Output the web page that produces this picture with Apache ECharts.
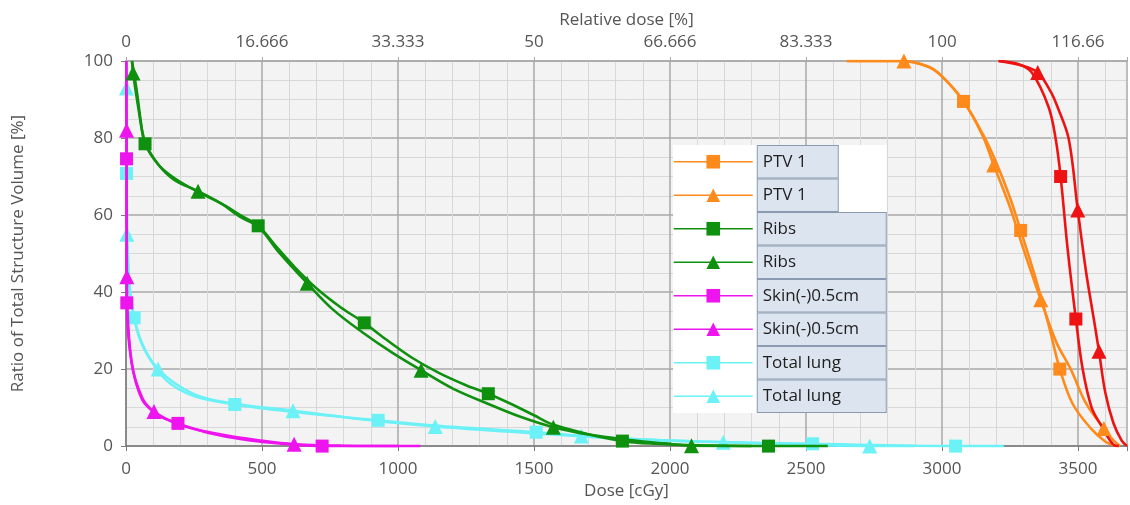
<!DOCTYPE html>
<html><head><meta charset="utf-8">
<script src="https://cdn.jsdelivr.net/npm/echarts@6/dist/echarts.min.js"></script>
<style>html,body{margin:0;padding:0;background:#fff}#c{width:1130px;height:505px}</style>
</head><body><div id="c"></div>
<script>
// ---- data ----
const doseMax = 3680;
const relDoseLabels = ['0','16.666','33.333','50','66.666','83.333','100','116.66'];
const volTicks = [0,20,40,60,80,100];

const ptvSq = [[2650,100],[2850,100],[2950,98.5],[3000,96],[3079,89.5],[3150,81],[3200,73.5],[3250,64.5],[3289,56],[3340,44.5],[3390,32],[3433,20],[3480,11],[3547,4.6],[3600,1.2],[3640,0]];
const ptvSqMarks = [4,8,11];
const ptvTri = [[2650,100],[2860,100],[2950,98.5],[3000,96],[3080,89.5],[3150,80.5],[3190,73],[3250,62],[3300,51],[3363,38],[3420,27],[3473,20],[3530,11],[3595,4.6],[3630,1.5],[3655,0]];
const ptvTriMarks = [1,6,9,13];

const ptvRedSq = [[3208,100],[3280,99.2],[3330,97],[3392,88],[3418,79.7],[3436,70],[3462,51],[3492,33],[3517,20],[3550,10],[3584,5.5],[3631,0.3],[3650,0]];
const ptvRedSqMarks = [5,7];
const ptvRedTri = [[3208,100],[3300,98.7],[3352,97],[3400,92],[3425,88],[3466,79.7],[3499,61.3],[3530,45],[3558,33],[3577,24.6],[3600,14],[3630,6],[3660,1.5],[3680,0]];
const ptvRedTriMarks = [2,6,9];

const ribsSq = [[22,100],[40,92],[55,84],[70,78.5],[120,73],[180,69.5],[265,66],[350,63],[420,60],[486,57.2],[550,52],[620,46.5],[700,41],[790,36],[876,32],[950,28],[1050,23],[1150,19],[1250,15.8],[1332,13.6],[1420,10.8],[1500,8],[1570,5.6],[1700,3.1],[1825,1.3],[1950,0.6],[2100,0.2],[2362,0],[2580,0]];
const ribsSqMarks = [3,9,14,19,24,27];
const ribsTri = [[22,100],[26,96.9],[45,88],[70,79],[120,73],[180,69],[265,66.2],[350,63],[420,59.5],[486,57],[560,50.5],[666,42.3],[760,35.5],[870,29.5],[980,24.2],[1085,19.7],[1200,15],[1330,11],[1450,7.6],[1571,4.9],[1700,3],[1850,1.6],[1980,0.7],[2079,0.1],[2300,0]];
const ribsTriMarks = [1,6,11,15,19,23];

const skinSq = [[1,100],[2,74.6],[3,37.2],[20,22],[60,12],[120,8],[191,5.9],[300,3.5],[450,1.5],[600,0.5],[721,0],[1082,0]];
const skinSqMarks = [1,2,6,10];
const skinTri = [[1,100],[2,82],[3,44],[20,22],[60,12.5],[103,9],[200,5.5],[350,3],[500,1.4],[618,0.5],[800,0.1],[1000,0]];
const skinTriMarks = [1,2,5,9];

const lungSq = [[1,100],[2,70.8],[10,45],[30,33.3],[70,25],[150,17],[250,13],[400,10.8],[600,9],[927,6.7],[1200,5],[1508,3.6],[1800,2],[2100,1.2],[2524,0.6],[3050,0],[3227,0]];
const lungSqMarks = [1,3,7,9,11,14,15];
const lungTri = [[1,100],[1.5,93],[3,55],[15,40],[50,28],[118,20],[250,13.5],[400,11],[614,9.2],[900,6.7],[1137,5.1],[1400,3.8],[1674,2.6],[1900,1.7],[2196,1],[2734,0],[2900,0]];
const lungTriMarks = [1,2,5,8,10,12,14,15];

// ---- build ----
function mk(name, color, sym, size, pts, marks, z){
  return {
    type:'line', name:name, smooth:0.35, symbol:sym, symbolSize:size, showSymbol:true,
    lineStyle:{color:color, width:2.6}, itemStyle:{color:color},
    z:z, animation:false, clip:true,
    data: pts.map((p,i)=> marks.indexOf(i) >= 0 ? {value:p} : {value:p, symbol:'none'})
  };
}
const orange='#ff8a1c', green='#0f900f', magenta='#ee14ee', cyan='#6cf1f6', red='#ee1212';
const series = [
  mk('PTV 1|a', orange, 'rect', 13, ptvSq, ptvSqMarks, 3),
  mk('PTV 1|b', orange, 'triangle', 15, ptvTri, ptvTriMarks, 3),
  mk('Ribs|a', green, 'rect', 13, ribsSq, ribsSqMarks, 4),
  mk('Ribs|b', green, 'triangle', 15, ribsTri, ribsTriMarks, 4),
  mk('Skin(-)0.5cm|a', magenta, 'rect', 13, skinSq, skinSqMarks, 3),
  mk('Skin(-)0.5cm|b', magenta, 'triangle', 15, skinTri, skinTriMarks, 3),
  mk('Total lung|a', cyan, 'rect', 13, lungSq, lungSqMarks, 2),
  mk('Total lung|b', cyan, 'triangle', 15, lungTri, lungTriMarks, 2),
  mk('PTV|r1', red, 'rect', 13, ptvRedSq, ptvRedSqMarks, 3),
  mk('PTV|r2', red, 'triangle', 15, ptvRedTri, ptvRedTriMarks, 3)
];
const legendNames = series.slice(0,8).map(s=>s.name);

const font = 'Open Sans';
const chart = echarts.init(document.getElementById('c'), null, {renderer:'canvas'});
chart.setOption({
  animation:false,
  backgroundColor:'#ffffff',
  grid:{left:126, right:0, top:61, bottom:54, show:true, backgroundColor:'#f3f3f3', borderWidth:0},
  legend:{
    orient:'vertical', left:673, top:145, padding:0, itemGap:0,
    itemWidth:79, itemHeight:17, backgroundColor:'#ffffff', selectedMode:false,
    lineStyle:{width:1.5},
    formatter:function(n){return n.split('|')[0];},
    textStyle:{fontFamily:font, fontSize:17, color:'#1e1e1e', backgroundColor:'#dce5ef',
      borderColor:'#8a9ab0', borderWidth:1, padding:[6,6,6,5], lineHeight:19.5, width:117},
    data: legendNames.map((n,i)=> i<2 ? {name:n, textStyle:{width:69}} : {name:n})
  },
  xAxis:[{
    type:'value', position:'bottom', min:0, max:doseMax, interval:500,
    name:'Dose [cGy]', nameLocation:'middle', nameGap:36,
    nameTextStyle:{fontFamily:font, fontSize:17, color:'#555'},
    axisLine:{show:true, lineStyle:{color:'#7a7a7a', width:1.5}},
    axisTick:{show:true, length:5, lineStyle:{color:'#7a7a7a'}},
    axisLabel:{margin:15, fontFamily:font, fontSize:17, color:'#555',
      formatter:function(v){return v%500===0 ? String(v) : '';}},
    splitLine:{show:true, lineStyle:{color:'#a9a9a9', width:1.5}},
    minorTick:{show:false, splitNumber:5},
    minorSplitLine:{show:true, lineStyle:{color:'#d8d8d8', width:1}}
  },{
    type:'value', position:'top', min:0, max:doseMax, interval:500,
    name:'Relative dose [%]', nameLocation:'middle', nameGap:32,
    nameTextStyle:{fontFamily:font, fontSize:17, color:'#555'},
    axisLine:{show:true, lineStyle:{color:'#a9a9a9', width:1.5}},
    axisTick:{show:true, length:4, lineStyle:{color:'#a9a9a9'}},
    axisLabel:{margin:10, fontFamily:font, fontSize:17, color:'#555',
      formatter:function(v){return v%500===0 ? relDoseLabels[v/500] : '';}},
    splitLine:{show:false}
  }],
  yAxis:{
    type:'value', min:volTicks[0], max:volTicks[volTicks.length-1], interval:20,
    name:'Ratio of Total Structure Volume [%]', nameLocation:'middle', nameGap:99,
    nameTextStyle:{fontFamily:font, fontSize:17, color:'#555'},
    axisLine:{show:true, lineStyle:{color:'#7a7a7a', width:1.5}},
    axisTick:{show:true, length:5, lineStyle:{color:'#7a7a7a'}},
    axisLabel:{margin:13, fontFamily:font, fontSize:17, color:'#555'},
    splitLine:{show:true, lineStyle:{color:'#a9a9a9', width:1.5}},
    minorTick:{show:false, splitNumber:4},
    minorSplitLine:{show:true, lineStyle:{color:'#d8d8d8', width:1}}
  },
  series: series
});
</script></body></html>
